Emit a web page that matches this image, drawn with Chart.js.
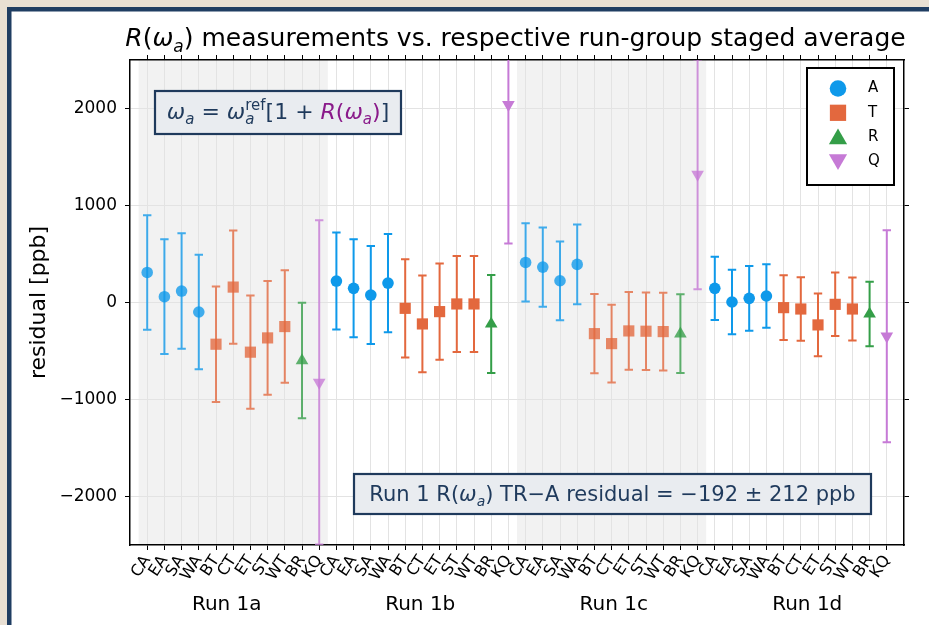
<!DOCTYPE html>
<html>
<head>
<meta charset="utf-8">
<script src="https://cdn.jsdelivr.net/npm/chart.js@4.4.0/dist/chart.umd.min.js"></script>
<style>
  html, body { margin: 0; padding: 0; background: #e8dfd3; }
  canvas { display: block; }
</style>
</head>
<body>
<canvas id="chart" width="929" height="625"></canvas>
<script>
// Station categories and the marker group each belongs to
const categories = ['CA', 'EA', 'SA', 'WA', 'BT', 'CT', 'ET', 'ST', 'WT', 'BR', 'KQ'];
const categoryGroup = ['A', 'A', 'A', 'A', 'T', 'T', 'T', 'T', 'T', 'R', 'Q'];
const runs = ['Run 1a', 'Run 1b', 'Run 1c', 'Run 1d'];
const groups = ['A', 'T', 'R', 'Q'];

// Residuals [ppb] per run group, one value per category
const run1a = [310, 60, 118, -98, -430, 159, -512, -365, -248, -598, -824];
const run1b = [221, 146, 77, 200, -60, -221, -94, -15, -15, -221, 2040];
const run1c = [413, 365, 224, 393, -321, -424, -293, -296, -300, -322, 1321];
const run1d = [146, 5, 43, 67, -53, -67, -231, -19, -67, -118, -348];

// Symmetric uncertainties [ppb]
const run1aErr = [590, 592, 595, 590, 595, 584, 583, 587, 580, 595, 1672];
const run1bErr = [500, 505, 505, 507, 507, 499, 495, 495, 495, 505, 1432];
const run1cErr = [403, 408, 406, 410, 408, 401, 401, 400, 400, 406, 1185];
const run1dErr = [326, 333, 334, 328, 333, 327, 324, 327, 325, 332, 1093];

const yTicks = [-2000, -1000, 0, 1000, 2000];

const runValues = [run1a, run1b, run1c, run1d];
const runErrors = [run1aErr, run1bErr, run1cErr, run1dErr];

// ---- styling ----
const FONT = '"DejaVu Sans", sans-serif';
const NAVY = '#1f3a5c';
const groupStyle = {
  A: { rgb: [14, 153, 234], pointStyle: 'circle', radius: 5.8, rotation: 0 },
  T: { rgb: [227, 104, 62], pointStyle: 'rect', radius: 7.9, rotation: 0 },
  R: { rgb: [52, 158, 72], pointStyle: 'triangle', radius: 7.3, rotation: 0 },
  Q: { rgb: [198, 122, 214], pointStyle: 'triangle', radius: 7.3, rotation: 180 }
};
const runAlpha = ri => (ri % 2 === 0 ? 0.78 : 1);
const rgba = (rgb, a) => `rgba(${rgb[0]},${rgb[1]},${rgb[2]},${a})`;
const nCat = categories.length;

// ---- datasets: one per marker group ----
const datasets = groups.map(g => {
  const st = groupStyle[g];
  const data = [], colors = [];
  runs.forEach((r, ri) => {
    categories.forEach((c, ci) => {
      if (categoryGroup[ci] !== g) return;
      data.push({ x: ri * nCat + ci, y: runValues[ri][ci], err: runErrors[ri][ci], run: ri });
      colors.push(rgba(st.rgb, runAlpha(ri)));
    });
  });
  return {
    label: g,
    data,
    showLine: false,
    pointStyle: st.pointStyle,
    pointRadius: st.radius,
    pointRotation: st.rotation,
    pointBackgroundColor: colors,
    pointBorderWidth: 0,
    pointHoverRadius: st.radius
  };
});

const tickIndex = runs.flatMap((r, ri) => categories.map((c, ci) => ri * nCat + ci));

function zeroPad(s) { s.paddingLeft = 0; s.paddingRight = 0; s.paddingTop = 0; s.paddingBottom = 0; }

// draw a sequence of styled text pieces on one baseline
function drawPieces(ctx, pieces, x, y, align) {
  let total = 0;
  pieces.forEach(p => {
    ctx.font = p.f;
    p.w = p.noAdvance ? 0 : ctx.measureText(p.t).width;
    total += p.w;
  });
  let cx = align === 'center' ? x - total / 2 : x;
  ctx.textAlign = 'left';
  ctx.textBaseline = 'alphabetic';
  pieces.forEach(p => {
    ctx.font = p.f;
    ctx.fillStyle = p.c;
    ctx.fillText(p.t, cx, y + (p.dy || 0));
    cx += p.w;
  });
  return total;
}

const framePlugin = {
  id: 'frame',
  beforeDraw(chart) {
    const { ctx, chartArea: a, scales } = chart;
    ctx.save();
    ctx.fillStyle = '#e8dfd3';
    ctx.fillRect(0, 0, chart.width, chart.height);
    ctx.fillStyle = '#ffffff';
    ctx.fillRect(7, 7, chart.width, chart.height);
    ctx.fillStyle = '#1f3d62';
    ctx.fillRect(7, 7, chart.width, 4.5);
    ctx.fillRect(7, 7, 4.5, chart.height);
    // shaded run groups
    ctx.fillStyle = '#f2f2f2';
    runs.forEach((r, ri) => {
      if (ri % 2 !== 0) return;
      const x0 = scales.x.getPixelForValue(ri * nCat - 0.5);
      const x1 = scales.x.getPixelForValue(ri * nCat + nCat - 0.5);
      ctx.fillRect(x0, a.top, x1 - x0, a.bottom - a.top);
    });
    ctx.restore();
  }
};

const errorBarPlugin = {
  id: 'errorBars',
  beforeDatasetsDraw(chart) {
    const { ctx, chartArea: a, scales } = chart;
    ctx.save();
    ctx.beginPath();
    ctx.rect(a.left, a.top, a.right - a.left, a.bottom - a.top);
    ctx.clip();
    ctx.lineWidth = 2;
    groups.forEach((g, gi) => {
      const st = groupStyle[g];
      chart.data.datasets[gi].data.forEach(p => {
        const x = scales.x.getPixelForValue(p.x);
        const yTop = scales.y.getPixelForValue(p.y + p.err);
        const yBot = scales.y.getPixelForValue(p.y - p.err);
        ctx.strokeStyle = rgba(st.rgb, runAlpha(p.run));
        ctx.beginPath();
        ctx.moveTo(x, yTop); ctx.lineTo(x, yBot);
        ctx.moveTo(x - 4.2, yTop); ctx.lineTo(x + 4.2, yTop);
        ctx.moveTo(x - 4.2, yBot); ctx.lineTo(x + 4.2, yBot);
        ctx.stroke();
      });
    });
    ctx.restore();
  }
};

const annotationPlugin = {
  id: 'annotations',
  afterDraw(chart) {
    const { ctx, chartArea: a } = chart;
    ctx.save();

    // title
    const tf = 25;
    drawPieces(ctx, [
      { t: 'R', f: `italic ${tf}px ${FONT}`, c: '#000' },
      { t: '(', f: `${tf}px ${FONT}`, c: '#000' },
      { t: 'ω', f: `italic ${tf}px ${FONT}`, c: '#000' },
      { t: 'a', f: `italic 17px ${FONT}`, c: '#000', dy: 6 },
      { t: ')', f: `${tf}px ${FONT}`, c: '#000' },
      { t: ' measurements vs. respective run-group staged average', f: `${tf}px ${FONT}`, c: '#000' }
    ], 515.5, 46, 'center');

    // y-axis title
    ctx.save();
    ctx.translate(39, (a.top + a.bottom) / 2);
    ctx.rotate(-Math.PI / 2);
    ctx.font = `22px ${FONT}`;
    ctx.fillStyle = '#000';
    ctx.textAlign = 'center';
    ctx.textBaseline = 'middle';
    ctx.fillText('residual [ppb]', 0, 0);
    ctx.restore();

    // run group labels under the axis
    ctx.font = `20px ${FONT}`;
    ctx.fillStyle = '#000';
    ctx.textAlign = 'center';
    ctx.textBaseline = 'alphabetic';
    runs.forEach((r, ri) => {
      const x = a.left + (a.right - a.left) * (2 * ri + 1) / (2 * runs.length);
      ctx.fillText(r, x, 610);
    });

    // formula box
    const drawBox = (x0, y0, x1, y1) => {
      ctx.fillStyle = '#e9ecf0';
      ctx.fillRect(x0, y0, x1 - x0, y1 - y0);
      ctx.strokeStyle = NAVY;
      ctx.lineWidth = 2.2;
      ctx.strokeRect(x0, y0, x1 - x0, y1 - y0);
    };
    drawBox(155, 91, 401, 134);
    const bf = 22, PUR = '#8a1a8a';
    const sub = `italic 15px ${FONT}`;
    drawPieces(ctx, [
      { t: 'ω', f: `italic ${bf}px ${FONT}`, c: NAVY },
      { t: 'a', f: sub, c: NAVY, dy: 5 },
      { t: ' = ', f: `${bf}px ${FONT}`, c: NAVY },
      { t: 'ω', f: `italic ${bf}px ${FONT}`, c: NAVY },
      { t: 'a', f: sub, c: NAVY, dy: 5, noAdvance: true },
      { t: 'ref', f: `15px ${FONT}`, c: NAVY, dy: -9 },
      { t: '[1 + ', f: `${bf}px ${FONT}`, c: NAVY },
      { t: 'R', f: `italic ${bf}px ${FONT}`, c: PUR },
      { t: '(', f: `${bf}px ${FONT}`, c: PUR },
      { t: 'ω', f: `italic ${bf}px ${FONT}`, c: PUR },
      { t: 'a', f: sub, c: PUR, dy: 5 },
      { t: ')', f: `${bf}px ${FONT}`, c: PUR },
      { t: ']', f: `${bf}px ${FONT}`, c: NAVY }
    ], 278, 119, 'center');

    // combined residual box
    drawBox(354, 474, 871, 514);
    const rf = 21;
    drawPieces(ctx, [
      { t: 'Run 1 R(', f: `${rf}px ${FONT}`, c: NAVY },
      { t: 'ω', f: `italic ${rf}px ${FONT}`, c: NAVY },
      { t: 'a', f: `italic 14px ${FONT}`, c: NAVY, dy: 5 },
      { t: ') TR\u2212A residual = \u2212192 \u00b1 212 ppb', f: `${rf}px ${FONT}`, c: NAVY }
    ], 612.5, 501, 'center');

    // legend
    ctx.fillStyle = '#ffffff';
    ctx.fillRect(807, 68, 87, 117);
    ctx.strokeStyle = '#000';
    ctx.lineWidth = 2;
    ctx.strokeRect(807, 68, 87, 117);
    const legendRadius = { A: 8.3, T: 11.5, R: 10.5, Q: 10.5 };
    groups.forEach((g, gi) => {
      const st = groupStyle[g];
      const y = 88.5 + gi * 24.3;
      ctx.fillStyle = rgba(st.rgb, 1);
      Chart.helpers.drawPoint(ctx, {
        pointStyle: st.pointStyle, rotation: st.rotation,
        radius: legendRadius[g], borderWidth: 0
      }, 838, y + (g === 'R' ? 2 : g === 'Q' ? -2 : 0));
      ctx.fillStyle = '#000';
      ctx.font = `15px ${FONT}`;
      ctx.textAlign = 'left';
      ctx.textBaseline = 'middle';
      ctx.fillText(g, 868, y);
    });

    ctx.restore();
  }
};

const gridColor = '#e3e3e3';
const border = { display: true, color: '#000', width: 1.5 };

new Chart(document.getElementById('chart'), {
  type: 'scatter',
  data: { datasets },
  plugins: [framePlugin, errorBarPlugin, annotationPlugin],
  options: {
    responsive: false,
    animation: false,
    devicePixelRatio: 1,
    events: [],
    layout: { padding: { top: 54, right: 19, bottom: 0, left: 0 } },
    plugins: { legend: { display: false }, title: { display: false }, tooltip: { enabled: false } },
    scales: {
      x: {
        type: 'linear', position: 'bottom', min: -1, max: 44,
        afterBuildTicks: s => { s.ticks = tickIndex.map(v => ({ value: v })); },
        afterFit: s => { s.height = 80; zeroPad(s); },
        ticks: {
          autoSkip: false, minRotation: 57, maxRotation: 57, padding: 2,
          color: '#000', font: { family: FONT, size: 16 },
          callback: v => categories[v % nCat]
        },
        grid: { color: gridColor, tickColor: '#000', tickLength: 5, lineWidth: 1 },
        border
      },
      xTop: {
        type: 'linear', position: 'top', min: -1, max: 44,
        afterBuildTicks: s => { s.ticks = tickIndex.map(v => ({ value: v })); },
        afterFit: s => { s.height = 6; zeroPad(s); },
        ticks: { display: false },
        grid: { drawOnChartArea: false, tickColor: '#000', tickLength: 5 },
        border
      },
      y: {
        type: 'linear', position: 'left', min: -2500, max: 2500,
        afterBuildTicks: s => { s.ticks = yTicks.map(v => ({ value: v })); },
        afterFit: s => { s.width = 130; zeroPad(s); },
        ticks: {
          padding: 8, color: '#000', font: { family: FONT, size: 17 },
          callback: v => (v < 0 ? '\u2212' + Math.abs(v) : String(v))
        },
        grid: { color: gridColor, tickColor: '#000', tickLength: 5, lineWidth: 1 },
        border
      },
      yRight: {
        type: 'linear', position: 'right', min: -2500, max: 2500,
        afterBuildTicks: s => { s.ticks = yTicks.map(v => ({ value: v })); },
        afterFit: s => { s.width = 6; zeroPad(s); },
        ticks: { display: false },
        grid: { drawOnChartArea: false, tickColor: '#000', tickLength: 5 },
        border
      }
    }
  }
});
</script>
</body>
</html>
